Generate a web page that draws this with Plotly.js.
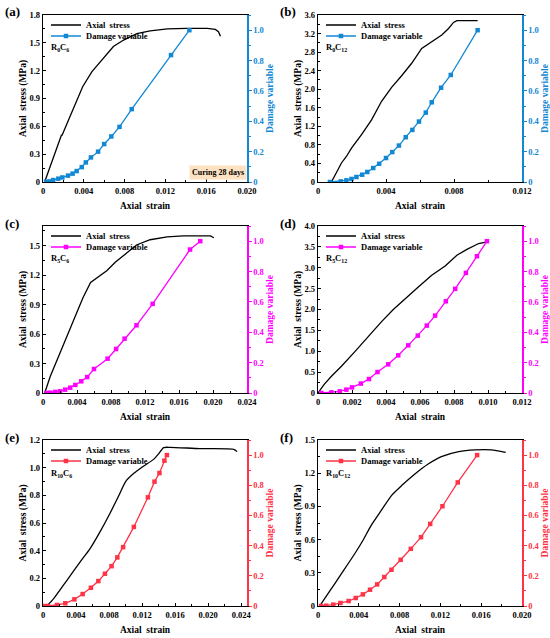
<!DOCTYPE html>
<html><head><meta charset="utf-8">
<script src="https://cdn.plot.ly/plotly-3.0.1.min.js"></script>
<style>html,body{margin:0;padding:0;background:#fff}#chart{width:550px;height:638px}</style>
</head><body><div id="chart"></div>
<script>
// ---------- data ----------
const panelLetters = ['(a)','(b)','(c)','(d)','(e)','(f)'];
const sampleNames = ['R<sub>0</sub>C<sub>6</sub>','R<sub>0</sub>C<sub>12</sub>','R<sub>5</sub>C<sub>6</sub>','R<sub>5</sub>C<sub>12</sub>','R<sub>10</sub>C<sub>6</sub>','R<sub>10</sub>C<sub>12</sub>'];
const seriesNames = ['Axial  stress','Damage variable'];

const aStrainS = [0.00016,0.0009,0.0017,0.00182,0.00186,0.0027,0.0033,0.0039,0.0048,0.0056,0.0069,0.0079,0.0092,0.0105,0.0122,0.0141,0.0161,0.0169,0.0172,0.0174];
const aStress  = [0,0.22,0.46,0.51,0.50,0.72,0.88,1.03,1.19,1.29,1.46,1.53,1.60,1.63,1.65,1.656,1.656,1.645,1.62,1.57];
const aStrainD = [0.0003,0.0007,0.001,0.0015,0.0019,0.00245,0.0029,0.0033,0.0038,0.0042,0.0047,0.0054,0.006,0.0067,0.0075,0.0087,0.01255,0.01435];
const aDamage  = [0.002,0.004,0.013,0.022,0.03,0.042,0.055,0.072,0.098,0.129,0.162,0.20,0.25,0.30,0.363,0.48,0.836,1.0];

const bStrainS = [0.00079,0.00138,0.00167,0.00197,0.00256,0.00315,0.00374,0.00433,0.00492,0.00551,0.0061,0.0067,0.00728,0.00768,0.00797,0.00817,0.00939];
const bStress  = [0,0.41,0.55,0.73,1.02,1.34,1.74,2.04,2.29,2.56,2.88,3.03,3.17,3.31,3.44,3.48,3.48];
const bStrainD = [0.0007,0.00134,0.00167,0.00197,0.00226,0.0026,0.0029,0.00325,0.0036,0.004,0.00437,0.00476,0.00516,0.00555,0.00594,0.00634,0.00669,0.00724,0.00781,0.00939];
const bDamage  = [0,0.004,0.011,0.02,0.033,0.048,0.066,0.092,0.12,0.158,0.197,0.24,0.295,0.343,0.398,0.457,0.525,0.621,0.705,1.0];

const cStrainS = [0.0002,0.00086,0.00184,0.0028,0.0038,0.0047,0.0056,0.0067,0.0075,0.0085,0.0099,0.011,0.0126,0.0146,0.0165,0.0197,0.0201];
const cStress  = [0,0.17,0.375,0.58,0.78,0.97,1.125,1.19,1.245,1.33,1.43,1.507,1.56,1.59,1.60,1.60,1.58];
const cStrainD = [0.0004,0.00086,0.00145,0.002,0.0026,0.0032,0.0038,0.0045,0.0052,0.006,0.0076,0.0086,0.0096,0.011,0.0129,0.0173,0.0185];
const cDamage  = [0,0.002,0.007,0.011,0.022,0.035,0.053,0.077,0.105,0.158,0.226,0.29,0.358,0.446,0.587,0.945,1.0];

const dStrainS = [0,0.00035,0.00079,0.00138,0.00217,0.00295,0.00374,0.00443,0.00531,0.0059,0.00669,0.00748,0.00817,0.00876,0.00945,0.00994];
const dStress  = [0,0.2,0.4,0.64,0.99,1.35,1.71,2.0,2.31,2.54,2.82,3.04,3.30,3.44,3.58,3.62];
const dStrainD = [0.0002,0.00079,0.00128,0.00167,0.002,0.00252,0.003,0.0035,0.00413,0.00472,0.00531,0.00587,0.0064,0.00689,0.00752,0.00807,0.0087,0.00935,0.00994];
const dDamage  = [0,0.004,0.011,0.022,0.037,0.062,0.092,0.138,0.189,0.248,0.314,0.378,0.444,0.51,0.604,0.686,0.791,0.901,1.0];

const eStrainS = [0.00048,0.00129,0.0029,0.0045,0.0057,0.0069,0.0081,0.0092,0.0100,0.0110,0.0122,0.0134,0.0140,0.0146,0.0154,0.0190,0.0231,0.0235];
const eStress  = [0,0.053,0.186,0.319,0.415,0.536,0.669,0.80,0.899,0.959,1.012,1.06,1.10,1.145,1.147,1.138,1.133,1.116];
const eStrainD = [0.00016,0.0006,0.0017,0.0027,0.0038,0.0048,0.0058,0.0067,0.0075,0.0083,0.009,0.0097,0.011,0.0127,0.0135,0.0141,0.0147,0.015];
const eDamage  = [0,0,0.007,0.018,0.044,0.079,0.121,0.165,0.214,0.264,0.322,0.39,0.524,0.72,0.824,0.881,0.963,1.0];

const fStrainS = [0.00016,0.00098,0.0023,0.0036,0.0044,0.0052,0.0062,0.0072,0.0082,0.0095,0.0108,0.0121,0.0138,0.0154,0.017,0.0184];
const fStress  = [0,0.111,0.292,0.472,0.592,0.727,0.863,0.998,1.088,1.193,1.283,1.35,1.395,1.41,1.41,1.389];
const fStrainD = [0.0003,0.0008,0.0015,0.0022,0.003,0.0037,0.0044,0.0051,0.0058,0.0065,0.0072,0.0081,0.0091,0.0101,0.011,0.0122,0.0137,0.0156];
const fDamage  = [0,0.002,0.009,0.02,0.033,0.053,0.077,0.108,0.143,0.192,0.24,0.306,0.379,0.456,0.544,0.661,0.819,1.0];

// axis settings per panel
const xMax   = [0.020,0.012,0.024,0.012,0.0247,0.020];
const xStep  = [0.004,0.004,0.004,0.002,0.004,0.004];
const yMax   = [1.8,3.6,1.7,4.0,1.2,1.5];
const yStep  = [0.3,0.4,0.3,0.5,0.2,0.3];
const yDec   = [1,1,1,1,1,1];
const dMax   = [1.1,1.1,1.1,1.1,1.1,1.1];
const damageColors = ['#1288d4','#1288d4','#ff00ff','#ff00ff','#ff3347','#ff3347'];
const shapes = ['linear','linear','linear','linear','spline','spline'];

const strainS = [aStrainS,bStrainS,cStrainS,dStrainS,eStrainS,fStrainS];
const stress  = [aStress,bStress,cStress,dStress,eStress,fStress];
const strainD = [aStrainD,bStrainD,cStrainD,dStrainD,eStrainD,fStrainD];
const damage  = [aDamage,bDamage,cDamage,dDamage,eDamage,fDamage];

// ---------- layout geometry (pixels in the 550x638 frame) ----------
const W = 550, H = 638;
const colX = [[43,247],[318,522]];
const rowY = [[15,182],[226,393],[440,606]];
const FF = 'Liberation Serif';

function ticks(max, step, dec){
  const v=[], t=[];
  const n = Math.floor(max/step + 1e-6);
  for(let i=0;i<=n;i++){ const val = +(i*step).toFixed(6); v.push(val); t.push(i===0?'0':val.toFixed(dec)); }
  return {v,t};
}

const traces = [];
const layout = {
  width: W, height: H, margin:{l:0,r:0,t:0,b:0},
  paper_bgcolor:'#fff', plot_bgcolor:'#fff', showlegend:true,
  font:{family:FF, size:9, color:'#000', weight:'bold'},
  annotations:[], shapes:[]
};

for(let p=0;p<6;p++){
  const col = p%2, row = Math.floor(p/2);
  const xd = [colX[col][0]/W, colX[col][1]/W];
  const yd = [1-rowY[row][1]/H, 1-rowY[row][0]/H];
  const xid = p===0?'x':'x'+(p+1);
  const yl = 2*p+1, yr = 2*p+2;
  const ylid = yl===1?'y':'y'+yl, yrid = 'y'+yr;
  const xkey = p===0?'xaxis':'xaxis'+(p+1);
  const ylkey = yl===1?'yaxis':'yaxis'+yl, yrkey = 'yaxis'+yr;
  const legS = yl===1?'legend':'legend'+yl, legD = 'legend'+yr;
  const col2 = damageColors[p];

  const xt = ticks(xMax[p], xStep[p], 3);
  const yt = ticks(yMax[p], yStep[p], yDec[p]);
  const dt = ticks(1.0, 0.2, 1);

  layout[xkey] = {
    domain: xd, anchor: ylid, range:[0,xMax[p]],
    tickmode:'array', tickvals: xt.v, ticktext: xt.t,
    ticks:'inside', ticklen:3, tickwidth:1, tickcolor:'#000',
    minor:{ticks:'inside', ticklen:2, dtick:xStep[p]/2, tick0:0, tickcolor:'#000'},
    showline:true, linecolor:'#000', linewidth:1.3, mirror:true,
    showgrid:false, zeroline:false,
    tickfont:{family:FF, size:8.5, weight:'bold', color:'#000'},
    title:{text:'Axial  strain', font:{family:FF, size:9.5, weight:'bold', color:'#000'}, standoff:7}
  };
  layout[ylkey] = {
    domain: yd, anchor: xid, range:[0,yMax[p]],
    tickmode:'array', tickvals: yt.v, ticktext: yt.t,
    ticks:'inside', ticklen:3, tickwidth:1, tickcolor:'#000',
    minor:{ticks:'inside', ticklen:2, dtick:yStep[p]/2, tick0:0, tickcolor:'#000'},
    showline:true, linecolor:'#000', linewidth:1.3,
    showgrid:false, zeroline:false,
    tickfont:{family:FF, size:8.5, weight:'bold', color:'#000'},
    title:{text:'Axial  stress (MPa)', font:{family:FF, size:9.5, weight:'bold', color:'#000'}, standoff:0}
  };
  layout[yrkey] = {
    overlaying: ylid, side:'right', anchor: xid, range:[0,dMax[p]],
    tickmode:'array', tickvals: dt.v, ticktext: dt.t,
    ticks:'outside', ticklen:3, tickwidth:1, tickcolor:col2,
    minor:{ticks:'outside', ticklen:2, dtick:0.1, tick0:0, tickcolor:col2},
    showline:true, linecolor:col2, linewidth:1.5,
    showgrid:false, zeroline:false,
    tickfont:{family:FF, size:8.5, weight:'bold', color:col2},
    title:{text:'Damage variable', font:{family:FF, size:9.5, weight:'bold', color:col2}, standoff:3}
  };
  const legBase = {
    x: (colX[col][0]+3)/W, xanchor:'left', yanchor:'middle',
    bgcolor:'rgba(0,0,0,0)', borderwidth:0,
    font:{family:FF, size:8.5, weight:'bold', color:'#000'}, itemwidth:30
  };
  layout[legS] = Object.assign({}, legBase, {y: 1-(rowY[row][0]+10)/H});
  layout[legD] = Object.assign({}, legBase, {y: 1-(rowY[row][0]+21)/H});

  traces.push({
    x: strainS[p], y: stress[p], xaxis:xid, yaxis:ylid, type:'scatter', mode:'lines',
    line:{color:'#000', width:1.3, shape:shapes[p], smoothing:0.6}, name:seriesNames[0], legend:legS
  });
  traces.push({
    x: strainD[p], y: damage[p], xaxis:xid, yaxis:yrid, type:'scatter', mode:'lines+markers',
    line:{color:col2, width:1.3}, marker:{symbol:'square', size:4.5, color:col2},
    name:seriesNames[1], legend:legD
  });

  layout.annotations.push({
    xref:'paper', yref:'paper', x:(colX[col][0]-40)/W, y:1-(rowY[row][0]-3)/H,
    xanchor:'left', yanchor:'middle', showarrow:false,
    text:panelLetters[p], font:{family:FF, size:13, weight:'bold', color:'#000'}
  });
  layout.annotations.push({
    xref:'paper', yref:'paper', x:(colX[col][0]+6)/W, y:1-(rowY[row][0]+33)/H,
    xanchor:'left', yanchor:'middle', showarrow:false,
    text:sampleNames[p], font:{family:FF, size:8.5, weight:'bold', color:'#000'}
  });
}

layout.annotations.push({
  xref:'paper', yref:'paper', x:218/W, y:1-172.5/H, xanchor:'center', yanchor:'middle',
  showarrow:false, text:'Curing 28 days', bgcolor:'#fde2c2', borderpad:2,
  font:{family:FF, size:8, weight:'bold', color:'#000'}
});

Plotly.newPlot('chart', traces, layout, {staticPlot:true, displayModeBar:false});
</script>
</body></html>
